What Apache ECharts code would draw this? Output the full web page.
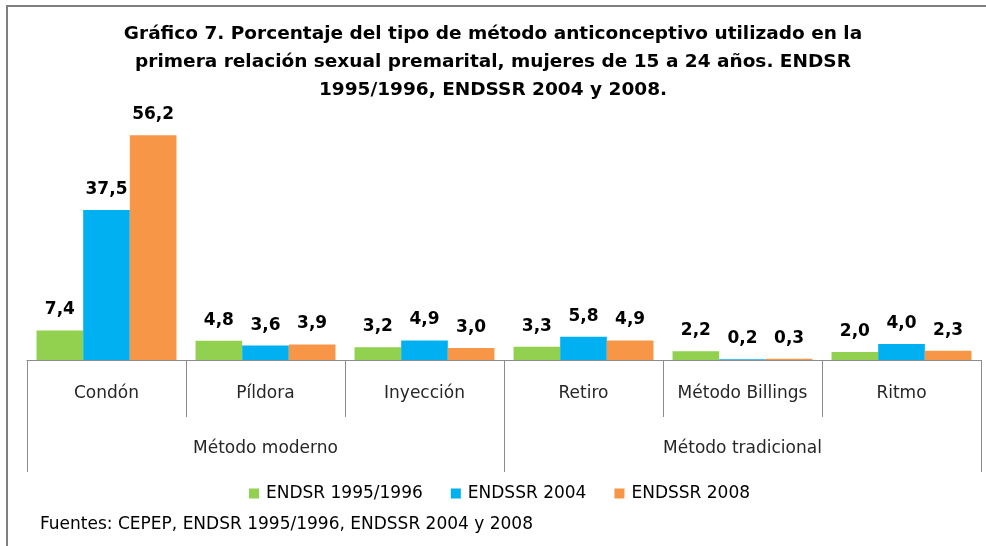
<!DOCTYPE html>
<html><head><meta charset="utf-8">
<script src="https://cdn.jsdelivr.net/npm/echarts@6/dist/echarts.min.js"></script>
<style>html,body{margin:0;padding:0;background:#fff}#c{width:986px;height:546px}</style>
</head><body><div id="c"></div>
<script>
const categories = ['Condón','Píldora','Inyección','Retiro','Método Billings','Ritmo'];
const groups = ['Método moderno','Método tradicional'];
const seriesNames = ['ENDSR 1995/1996','ENDSSR 2004','ENDSSR 2008'];
const endsr1995 = [7.4, 4.8, 3.2, 3.3, 2.2, 2.0];
const endssr2004 = [37.5, 3.6, 4.9, 5.8, 0.2, 4.0];
const endssr2008 = [56.2, 3.9, 3.0, 4.9, 0.3, 2.3];
const colors = ['#92D050','#00B0F0','#F79646'];
const titleText = 'Gráfico 7. Porcentaje del tipo de método anticonceptivo utilizado en la\nprimera relación sexual premarital, mujeres de 15 a 24 años. ENDSR\n1995/1996, ENDSSR 2004 y 2008.';
const sourceText = 'Fuentes: CEPEP, ENDSR 1995/1996, ENDSSR 2004 y 2008';

const font = '"DejaVu Sans", sans-serif';
const chart = echarts.init(document.getElementById('c'));
const values = [endsr1995, endssr2004, endssr2008];
chart.setOption({
  animation: false,
  textStyle: {fontFamily: font},
  title: {
    text: titleText, left: 'center', top: 15,
    textStyle: {fontFamily: font, fontSize: 18.5, fontWeight: 'bold', color: '#000', lineHeight: 28}
  },
  graphic: [
    {type: 'rect', shape: {x: 7, y: 6, width: 1000, height: 600}, style: {fill: 'none', stroke: '#7f7f7f', lineWidth: 2}, silent: true},
    {type: 'text', left: 40, top: 516, style: {text: sourceText, font: '17px ' + font, fill: '#000'}}
  ],
  legend: {
    top: 480, left: 244, itemWidth: 10, itemHeight: 10, itemGap: 28,
    icon: 'rect',
    textStyle: {fontFamily: font, fontSize: 17, color: '#000', padding: [0, 0, 0, 2]},
    data: seriesNames
  },
  grid: {left: 27, right: 5, top: 120, bottom: 186, containLabel: false},
  xAxis: [
    {type: 'category', data: categories, position: 'bottom',
     axisLine: {show: true, lineStyle: {color: '#8c8c8c'}},
     axisTick: {show: true, interval: 0, length: 57, lineStyle: {color: '#8c8c8c'}},
     axisLabel: {interval: 0, margin: 25, fontSize: 17, color: '#262626', fontFamily: font}},
    {type: 'category', data: groups, position: 'bottom',
     axisLine: {show: false},
     axisTick: {show: true, interval: 0, length: 112, lineStyle: {color: '#8c8c8c'}},
     axisLabel: {interval: 0, margin: 80, fontSize: 17, color: '#262626', fontFamily: font}}
  ],
  yAxis: {type: 'value', min: 0, max: 60, show: false, splitLine: {show: false}},
  series: seriesNames.map((n, i) => ({
    name: n, type: 'bar', data: values[i], xAxisIndex: 0,
    barGap: '0%', barCategoryGap: '12%',
    itemStyle: {color: colors[i]},
    label: {show: true, position: 'top', distance: 12, fontSize: 17, fontWeight: 'bold', color: '#000', fontFamily: font,
            formatter: p => p.value.toFixed(1).replace('.', ',')}
  }))
});
</script></body></html>
